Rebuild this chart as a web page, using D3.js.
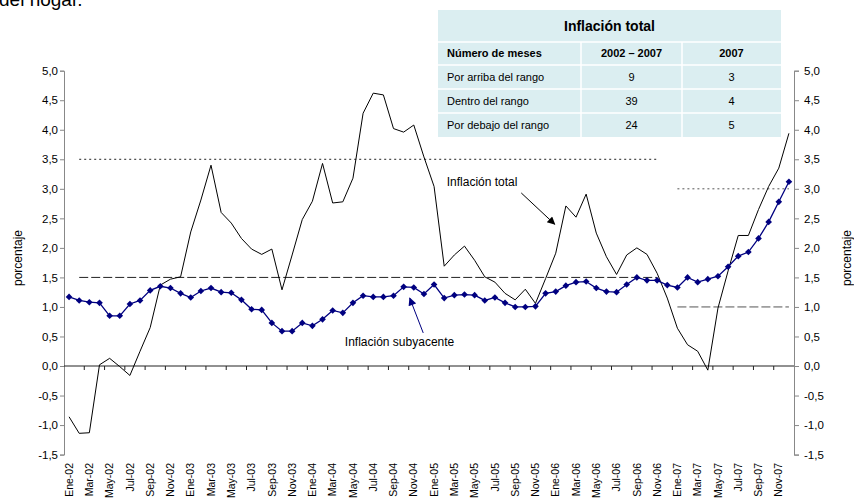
<!DOCTYPE html>
<html>
<head>
<meta charset="utf-8">
<script src="https://cdn.jsdelivr.net/npm/d3@7"></script>
<style>
	body { margin: 0 ; background: #fff ; }
	svg { display: block ; }
	text { font-family: "Liberation Sans", Arial, sans-serif ; fill: #000 ; }
</style>
</head>
<body>
<div id="chart"></div>
<script>
// month labels of the x axis (Ene-02 .. Dic-07)
var monthNames = ['Ene','Feb','Mar','Abr','May','Jun','Jul','Ago','Sep','Oct','Nov','Dic'] ;
var years = ['02','03','04','05','06','07'] ;

// inflación total, variación anual (%)
var totalValues = [
	-0.86, -1.14, -1.13, 0.02, 0.13, -0.01, -0.16, 0.25, 0.65, 1.37,
	1.47, 1.51, 2.27, 2.81, 3.40, 2.60, 2.42, 2.16, 1.98, 1.89,
	1.98, 1.29, 1.88, 2.48, 2.79, 3.43, 2.76, 2.78, 3.18, 4.28,
	4.62, 4.59, 4.02, 3.96, 4.08, 3.54, 3.04, 1.69, 1.88, 2.03,
	1.79, 1.51, 1.42, 1.23, 1.12, 1.30, 1.06, 1.48, 1.91, 2.71,
	2.52, 2.91, 2.25, 1.85, 1.55, 1.88, 2.00, 1.89, 1.57, 1.15,
	0.64, 0.36, 0.25, -0.07, 0.98, 1.61, 2.21, 2.21, 2.65, 3.04,
	3.35, 3.94
] ;
// inflación subyacente (%)
var coreValues = [
	1.17, 1.11, 1.08, 1.07, 0.85, 0.85, 1.05, 1.11, 1.28, 1.35,
	1.32, 1.23, 1.16, 1.27, 1.32, 1.25, 1.24, 1.12, 0.96, 0.95,
	0.73, 0.59, 0.59, 0.73, 0.68, 0.79, 0.94, 0.90, 1.07, 1.19,
	1.17, 1.17, 1.19, 1.34, 1.33, 1.22, 1.38, 1.15, 1.20, 1.21,
	1.20, 1.11, 1.16, 1.07, 1.00, 1.00, 1.01, 1.23, 1.26, 1.36,
	1.42, 1.43, 1.32, 1.26, 1.25, 1.38, 1.50, 1.45, 1.45, 1.37,
	1.33, 1.50, 1.42, 1.47, 1.52, 1.68, 1.86, 1.93, 2.16, 2.44,
	2.78, 3.12
] ;

// target ranges
var rangeStart = ['Feb-02','Ene-07'] ;
var rangeEnd = ['Nov-06','Dic-07'] ;
var rangeUpper = [3.5, 3.0] ;
var rangeLower = [1.5, 1.0] ;

var yTicks = [-1.5,-1,-0.5,0,0.5,1,1.5,2,2.5,3,3.5,4,4.5,5] ;

// table
var tableTitle = 'Inflación total' ;
var tableHeader = ['Número de meses','2002 – 2007','2007'] ;
var tableRows = ['Por arriba del rango','Dentro del rango','Por debajo del rango'] ;
var months0207 = [9,39,24] ;
var months07 = [3,4,5] ;

var months = [] ;
for ( var a = 0 ; a < years.length ; ++a )
	for ( var m = 0 ; m < monthNames.length ; ++m )
		months.push(monthNames[m] + '-' + years[a]) ;

var width = 854, height = 501 ;
var svg = d3.select('#chart').append('svg').attr('width',width).attr('height',height) ;

var x = d3.scaleBand().domain(months).range([64,794]) ;
var bw = x.bandwidth() ;
var cx = function(c) { return x(c) + bw/2 ; } ;
var xs = d3.scaleLinear().domain([0,months.length-1]).range([cx(months[0]),cx(months[months.length-1])]) ;
var y = d3.scaleLinear().domain([-1.5,5]).range([454.6,70.7]) ;
var fmt = function(d) { return d.toFixed(1).replace('.',',') ; } ;

// clipped caption from the page above
svg.append('text').attr('x',-1).attr('y',6).style('font-size','19px').text('del hogar.') ;

// left axis
var gl = svg.append('g').attr('transform','translate(64,0)')
	.call(d3.axisLeft(y).tickValues(yTicks).tickFormat(fmt).tickSizeOuter(0).tickSize(4).tickPadding(2)) ;
// right axis
var gr = svg.append('g').attr('transform','translate(794,0)')
	.call(d3.axisRight(y).tickValues(yTicks).tickFormat(fmt).tickSizeOuter(0).tickSize(5).tickPadding(5)) ;
[gl,gr].forEach(function(g) {
	g.select('.domain').attr('stroke','#888') ;
	g.selectAll('.tick line').attr('stroke','#888') ;
	g.selectAll('.tick text').style('font-family','"Liberation Sans", Arial, sans-serif').style('font-size','11.5px').attr('fill','#111') ;
}) ;

// x axis at zero
var gx = svg.append('g').attr('transform','translate(0,' + y(0) + ')') ;
gx.append('line').attr('x1',64).attr('x2',794).attr('stroke','#222') ;
gx.selectAll('line.tk').data(months.filter(function(d,i) { return i % 2 == 0 && i > 0 ; }))
	.enter().append('line').attr('class','tk')
	.attr('x1',function(d) { return x(d) ; }).attr('x2',function(d) { return x(d) ; })
	.attr('y1',0).attr('y2',4).attr('stroke','#222') ;

// x labels at bottom, rotated
svg.append('g').selectAll('text').data(months.filter(function(d,i) { return i % 2 == 0 ; }))
	.enter().append('text')
	.attr('transform',function(d) { return 'translate(' + cx(d) + ',463) rotate(-90)' ; })
	.attr('text-anchor','end').attr('dy','0.35em')
	.style('font-size','10.5px').attr('fill','#222')
	.text(function(d) { return d ; }) ;

// axis titles
svg.append('text').attr('transform','translate(18,258) rotate(-90)').attr('text-anchor','middle').attr('dy','0.35em').style('font-size','12px').text('porcentaje') ;
svg.append('text').attr('transform','translate(847,258) rotate(-90)').attr('text-anchor','middle').attr('dy','0.35em').style('font-size','12px').text('porcentaje') ;

// range lines
for ( var r = 0 ; r < rangeStart.length ; ++r ) {
	var col = r == 0 ? '#222' : '#555' ;
	svg.append('line').attr('x1',cx(rangeStart[r])).attr('x2',cx(rangeEnd[r]))
		.attr('y1',y(rangeUpper[r])).attr('y2',y(rangeUpper[r]))
		.attr('stroke',col).attr('stroke-dasharray','2,3') ;
	svg.append('line').attr('x1',cx(rangeStart[r])).attr('x2',cx(rangeEnd[r]))
		.attr('y1',y(rangeLower[r])).attr('y2',y(rangeLower[r]))
		.attr('stroke',col).attr('stroke-dasharray','9,3') ;
}

// total inflation line
var line = d3.line().x(function(d,i) { return cx(months[i]) ; }).y(function(d) { return y(d) ; }) ;
svg.append('path').attr('d',line(totalValues)).attr('fill','none').attr('stroke','#000').attr('stroke-width',1) ;

// core inflation line with diamonds
svg.append('path').attr('d',line(coreValues)).attr('fill','none').attr('stroke','#000080').attr('stroke-width',1.3) ;
svg.append('g').selectAll('path').data(coreValues).enter().append('path')
	.attr('d',d3.symbol(d3.symbolSquare,22))
	.attr('transform',function(d,i) { return 'translate(' + cx(months[i]) + ',' + y(d) + ') rotate(45)' ; })
	.attr('fill','#000080') ;

// arrows
var defs = svg.append('defs') ;
function arrowHead(id,color) {
	defs.append('marker').attr('id',id).attr('viewBox','0 0 10 10').attr('refX',9).attr('refY',5)
		.attr('markerUnits','userSpaceOnUse').attr('markerWidth',10).attr('markerHeight',8).attr('orient','auto')
		.append('path').attr('d','M0,0 L10,5 L0,10 Z').attr('fill',color) ;
}
arrowHead('ah-black','#000') ;
arrowHead('ah-blue','#000080') ;

svg.append('text').attr('x',xs(37.25)).attr('y',y(3.05)).style('font-size','12px').attr('fill','#111').text('Inflación total') ;
svg.append('line').attr('x1',xs(44.6)).attr('y1',y(2.93)).attr('x2',xs(47.9)).attr('y2',y(2.4))
	.attr('stroke','#000').attr('marker-end','url(#ah-black)') ;

svg.append('text').attr('x',xs(27.2)).attr('y',y(0.34)).style('font-size','12px').attr('fill','#111').text('Inflación subyacente') ;
svg.append('line').attr('x1',xs(34.93)).attr('y1',y(0.56)).attr('x2',xs(33.6)).attr('y2',y(1.15))
	.attr('stroke','#000080').attr('marker-end','url(#ah-blue)') ;

// table
var tx = [438,581,682,781] ;
var ty = [10,42,65,89,113,137] ;
var bg = '#dbeef1' ;
var tbl = svg.append('g') ;
tbl.append('rect').attr('x',tx[0]).attr('y',ty[0]).attr('width',tx[3]-tx[0]).attr('height',ty[5]-ty[0]).attr('fill',bg) ;
// white grid lines
for ( var k = 1 ; k < ty.length - 1 ; ++k )
	tbl.append('line').attr('x1',tx[0]).attr('x2',tx[3]).attr('y1',ty[k]).attr('y2',ty[k]).attr('stroke','#fff').attr('stroke-width',1.5) ;
for ( var k = 1 ; k < tx.length - 1 ; ++k )
	tbl.append('line').attr('x1',tx[k]).attr('x2',tx[k]).attr('y1',ty[1]).attr('y2',ty[5]).attr('stroke','#fff').attr('stroke-width',1.5) ;
tbl.append('text').attr('x',(tx[0]+tx[3])/2).attr('y',(ty[0]+ty[1])/2).attr('dy','0.35em').attr('text-anchor','middle')
	.style('font-size','14px').style('font-weight','bold').text(tableTitle) ;
tableHeader.forEach(function(h,i) {
	tbl.append('text').attr('x',i == 0 ? tx[0]+9 : (tx[i]+tx[i+1])/2).attr('y',(ty[1]+ty[2])/2).attr('dy','0.35em')
		.attr('text-anchor',i == 0 ? 'start' : 'middle').style('font-size','11px').style('font-weight','bold').text(h) ;
}) ;
tableRows.forEach(function(rw,i) {
	var yy = (ty[i+2]+ty[i+3])/2 ;
	tbl.append('text').attr('x',tx[0]+9).attr('y',yy).attr('dy','0.35em').style('font-size','11px').attr('fill','#222').text(rw) ;
	tbl.append('text').attr('x',(tx[1]+tx[2])/2).attr('y',yy).attr('dy','0.35em').attr('text-anchor','middle').style('font-size','11px').attr('fill','#222').text(months0207[i]) ;
	tbl.append('text').attr('x',(tx[2]+tx[3])/2).attr('y',yy).attr('dy','0.35em').attr('text-anchor','middle').style('font-size','11px').attr('fill','#222').text(months07[i]) ;
}) ;
</script>
</body>
</html>
